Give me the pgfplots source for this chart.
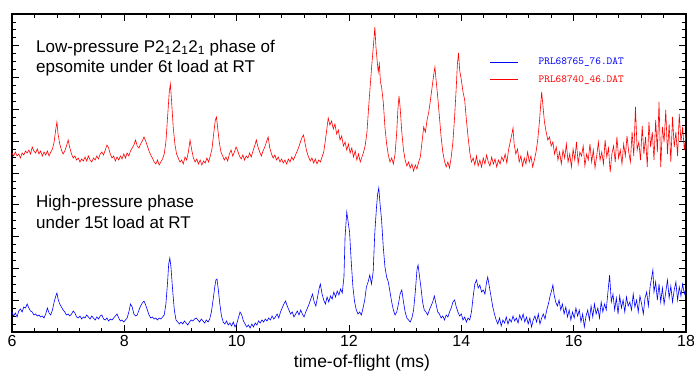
\documentclass[border=0pt]{standalone}
\usepackage{fontspec}
\setmainfont{Liberation Sans}
\usepackage{pgfplots}
\pgfplotsset{compat=1.18}
\begin{document}
\begin{tikzpicture}
\begin{axis}[
  scale only axis,
  width=674pt, height=318pt,
  xmin=6, xmax=18, ymin=0, ymax=318,
  xtick distance=2, minor x tick num=4,
  ytick distance=31.8, minor y tick num=3,
  yticklabels={},
  tick align=inside,
  major tick length=7pt, minor tick length=4pt,
  every tick/.style={black, line width=0.8pt},
  axis line style={black, line width=1.2pt},
  /pgf/number format/assume math mode=true,
  ticklabel style={font=\fontsize{16}{19}\selectfont},
  xlabel={time-of-flight (ms)},
  xlabel style={font=\fontsize{17.5}{20}\selectfont, xshift=13pt, yshift=-1pt},
  legend cell align=left,
  legend style={draw=none, fill=none, inner sep=0pt, at={(0.709,0.868)}, anchor=north west,
    font=\ttfamily\fontsize{10.8}{12}\selectfont, column sep=18pt, row sep=5pt},
  legend image code/.code={\draw[#1] (0pt,0pt) -- (28pt,0pt);},
]
\addplot[blue, line width=0.6pt] coordinates {
(6.00,20)(6.03,16)(6.06,19)(6.09,15)(6.12,21)(6.15,23)(6.18,20)(6.21,25)(6.24,24)(6.27,28)
(6.30,24)(6.33,21)(6.36,20)(6.39,17)(6.42,18)(6.45,16)(6.48,17)(6.51,15)(6.54,16)(6.57,14)
(6.60,18)(6.63,24)(6.66,19)(6.69,17)(6.72,22)(6.75,30)(6.78,36)(6.80,39)(6.82,33)(6.85,28)
(6.88,25)(6.91,22)(6.94,20)(6.97,17)(7.00,18)(7.03,16)(7.06,18)(7.09,21)(7.12,19)(7.15,15)
(7.18,14)(7.21,16)(7.24,13)(7.27,15)(7.30,14)(7.33,17)(7.36,15)(7.39,13)(7.42,16)(7.45,14)
(7.48,12)(7.51,15)(7.54,13)(7.57,16)(7.60,17)(7.63,13)(7.66,12)(7.69,14)(7.72,11)(7.75,13)
(7.78,12)(7.81,14)(7.84,16)(7.87,18)(7.90,14)(7.93,11)(7.96,12)(7.99,10)(8.02,12)(8.05,14)
(8.08,20)(8.11,28)(8.14,25)(8.17,18)(8.20,16)(8.23,17)(8.26,22)(8.29,26)(8.32,29)(8.35,31)
(8.38,27)(8.41,22)(8.44,17)(8.47,14)(8.50,15)(8.53,13)(8.56,14)(8.59,12)(8.62,14)(8.65,13)
(8.68,15)(8.71,17)(8.74,28)(8.77,50)(8.79,68)(8.81,74)(8.83,65)(8.86,42)(8.89,22)(8.92,12)
(8.95,10)(8.98,8)(9.01,10)(9.04,8)(9.07,11)(9.10,9)(9.13,7)(9.16,10)(9.19,12)(9.22,11)
(9.25,13)(9.28,14)(9.31,12)(9.34,10)(9.37,13)(9.40,11)(9.43,9)(9.46,12)(9.49,10)(9.52,13)
(9.55,20)(9.58,32)(9.61,45)(9.63,52)(9.65,53)(9.67,44)(9.70,28)(9.73,16)(9.76,10)(9.79,8)
(9.82,11)(9.85,7)(9.88,9)(9.91,6)(9.94,10)(9.97,5)(10.00,8)(10.03,14)(10.06,20)(10.09,17)
(10.12,11)(10.15,8)(10.18,5)(10.21,7)(10.24,4)(10.27,8)(10.30,5)(10.33,9)(10.36,7)(10.39,11)
(10.42,9)(10.45,12)(10.48,10)(10.51,13)(10.54,11)(10.57,14)(10.60,12)(10.63,16)(10.66,13)(10.69,15)
(10.72,18)(10.75,14)(10.78,20)(10.81,24)(10.84,28)(10.87,31)(10.90,26)(10.93,22)(10.96,18)(10.99,20)
(11.02,15)(11.05,18)(11.08,21)(11.11,17)(11.14,22)(11.17,18)(11.20,15)(11.23,20)(11.26,24)(11.29,28)
(11.32,33)(11.35,38)(11.38,30)(11.41,26)(11.44,35)(11.47,44)(11.49,48)(11.52,38)(11.55,32)(11.58,28)
(11.61,35)(11.64,30)(11.67,36)(11.70,33)(11.73,40)(11.76,35)(11.79,41)(11.82,37)(11.85,43)(11.88,39)
(11.91,55)(11.93,95)(11.96,120)(11.98,112)(12.01,100)(12.04,70)(12.07,45)(12.10,30)(12.13,22)(12.16,18)
(12.19,20)(12.22,17)(12.25,24)(12.28,32)(12.31,45)(12.34,50)(12.37,57)(12.40,48)(12.43,60)(12.46,100)
(12.49,125)(12.51,138)(12.53,144)(12.55,130)(12.58,112)(12.61,85)(12.64,65)(12.67,55)(12.70,50)(12.73,40)
(12.76,30)(12.79,22)(12.82,17)(12.85,20)(12.88,28)(12.91,38)(12.94,42)(12.97,30)(13.00,20)(13.03,14)
(13.06,12)(13.09,10)(13.12,14)(13.15,22)(13.18,40)(13.21,62)(13.23,67)(13.25,58)(13.28,45)(13.31,30)
(13.34,22)(13.37,20)(13.40,17)(13.43,22)(13.46,26)(13.49,30)(13.52,36)(13.55,28)(13.58,20)(13.61,18)
(13.64,14)(13.67,16)(13.70,12)(13.73,17)(13.76,15)(13.79,20)(13.82,24)(13.85,30)(13.88,32)(13.91,25)
(13.94,20)(13.97,16)(14.00,18)(14.03,12)(14.06,15)(14.09,10)(14.12,14)(14.15,12)(14.18,20)(14.21,35)
(14.24,48)(14.27,52)(14.30,44)(14.33,47)(14.36,40)(14.39,42)(14.42,38)(14.45,50)(14.47,55)(14.50,45)
(14.53,35)(14.56,25)(14.59,18)(14.62,12)(14.65,8)(14.68,14)(14.71,6)(14.74,12)(14.77,9)(14.80,15)
(14.83,8)(14.86,13)(14.89,10)(14.92,16)(14.95,11)(14.98,14)(15.01,9)(15.04,17)(15.07,12)(15.10,18)
(15.13,10)(15.16,15)(15.19,8)(15.22,14)(15.25,5)(15.28,12)(15.31,16)(15.34,10)(15.37,18)(15.40,8)
(15.43,14)(15.46,18)(15.49,13)(15.52,22)(15.55,28)(15.58,36)(15.61,42)(15.63,47)(15.65,38)(15.68,30)
(15.71,26)(15.74,32)(15.77,22)(15.80,28)(15.83,18)(15.86,25)(15.89,15)(15.92,22)(15.95,12)(15.98,20)
(16.01,14)(16.04,24)(16.07,16)(16.10,22)(16.13,10)(16.16,18)(16.19,5)(16.22,16)(16.25,22)(16.28,12)
(16.31,26)(16.34,15)(16.37,28)(16.40,18)(16.43,24)(16.46,14)(16.49,30)(16.52,20)(16.55,28)(16.58,22)
(16.61,40)(16.64,57)(16.67,30)(16.70,38)(16.73,22)(16.76,34)(16.79,18)(16.82,36)(16.85,24)(16.88,32)
(16.91,20)(16.94,35)(16.97,26)(17.00,30)(17.03,22)(17.06,38)(17.09,25)(17.12,32)(17.15,20)(17.18,36)
(17.21,28)(17.24,18)(17.27,34)(17.30,40)(17.33,26)(17.36,45)(17.39,55)(17.41,62)(17.43,40)(17.46,50)
(17.49,32)(17.52,48)(17.55,30)(17.58,44)(17.61,28)(17.64,40)(17.67,52)(17.70,34)(17.73,46)(17.76,30)
(17.79,42)(17.82,50)(17.85,32)(17.88,45)(17.91,36)(17.94,48)(17.97,38)(18.00,44)
};
\addlegendentry{\textcolor{blue}{PRL68765\_76.DAT}}
\addplot[red, line width=0.6pt] coordinates {
(6.00,179)(6.03,176)(6.06,180)(6.09,176)(6.12,178)(6.15,174)(6.18,179)(6.21,177)(6.24,181)(6.27,179)
(6.30,182)(6.33,178)(6.36,185)(6.39,181)(6.42,179)(6.45,183)(6.48,178)(6.51,181)(6.54,176)(6.57,180)
(6.60,177)(6.63,181)(6.66,176)(6.69,180)(6.72,183)(6.75,190)(6.78,203)(6.80,210)(6.82,198)(6.85,188)
(6.88,182)(6.91,178)(6.94,181)(6.97,186)(7.00,192)(7.03,184)(7.06,178)(7.09,174)(7.12,176)(7.15,172)
(7.18,174)(7.21,170)(7.24,173)(7.27,171)(7.30,175)(7.33,171)(7.36,176)(7.39,172)(7.42,170)(7.45,174)
(7.48,172)(7.51,176)(7.54,173)(7.57,178)(7.60,180)(7.63,177)(7.66,182)(7.69,187)(7.72,184)(7.75,178)
(7.78,174)(7.81,176)(7.84,171)(7.87,175)(7.90,172)(7.93,176)(7.96,173)(7.99,178)(8.02,174)(8.05,179)
(8.08,176)(8.11,181)(8.14,184)(8.17,187)(8.20,192)(8.23,186)(8.26,184)(8.29,188)(8.32,191)(8.35,195)
(8.38,191)(8.41,186)(8.44,181)(8.47,177)(8.50,174)(8.53,170)(8.56,168)(8.59,172)(8.62,167)(8.65,170)
(8.68,173)(8.71,178)(8.74,190)(8.77,215)(8.80,240)(8.82,248)(8.84,232)(8.87,205)(8.90,188)(8.93,178)
(8.96,174)(8.99,170)(9.02,172)(9.05,168)(9.08,175)(9.11,172)(9.14,180)(9.17,192)(9.20,182)(9.23,174)
(9.26,170)(9.29,173)(9.32,168)(9.35,172)(9.38,167)(9.41,171)(9.44,169)(9.47,174)(9.50,170)(9.53,176)
(9.56,183)(9.59,198)(9.62,212)(9.64,215)(9.66,205)(9.69,190)(9.72,180)(9.75,176)(9.78,172)(9.81,175)
(9.84,171)(9.87,178)(9.90,182)(9.93,176)(9.96,180)(9.99,185)(10.02,181)(10.05,176)(10.08,173)(10.11,177)
(10.14,172)(10.17,176)(10.20,174)(10.23,179)(10.26,175)(10.29,181)(10.32,186)(10.35,192)(10.38,185)(10.41,180)
(10.44,176)(10.47,181)(10.50,185)(10.53,190)(10.56,195)(10.59,184)(10.62,178)(10.65,174)(10.68,177)(10.71,172)
(10.74,175)(10.77,170)(10.80,173)(10.83,169)(10.86,172)(10.89,168)(10.92,173)(10.95,170)(10.98,175)(11.01,172)
(11.04,176)(11.07,180)(11.10,184)(11.13,189)(11.16,194)(11.19,197)(11.22,188)(11.25,180)(11.28,175)(11.31,171)
(11.34,174)(11.37,169)(11.40,173)(11.43,168)(11.46,172)(11.49,170)(11.52,175)(11.55,180)(11.58,192)(11.61,205)
(11.63,214)(11.66,207)(11.69,211)(11.72,203)(11.75,208)(11.78,198)(11.81,202)(11.84,192)(11.87,196)(11.90,186)
(11.93,190)(11.96,182)(11.99,188)(12.02,179)(12.05,184)(12.08,175)(12.11,181)(12.14,172)(12.17,178)(12.20,170)
(12.23,175)(12.26,180)(12.29,187)(12.32,200)(12.35,225)(12.38,248)(12.41,270)(12.44,290)(12.46,305)(12.48,285)
(12.50,272)(12.52,260)(12.54,268)(12.56,250)(12.58,245)(12.61,230)(12.64,205)(12.67,188)(12.70,177)(12.73,170)
(12.76,174)(12.79,168)(12.82,178)(12.85,200)(12.87,222)(12.89,236)(12.91,225)(12.94,200)(12.97,182)(13.00,172)
(13.03,166)(13.06,170)(13.09,164)(13.12,168)(13.15,161)(13.18,167)(13.21,163)(13.24,170)(13.27,175)(13.30,190)
(13.33,205)(13.36,200)(13.39,212)(13.42,220)(13.45,232)(13.48,245)(13.51,258)(13.53,265)(13.55,252)(13.58,235)
(13.61,215)(13.64,195)(13.67,180)(13.70,171)(13.73,165)(13.76,170)(13.79,164)(13.82,175)(13.85,190)(13.88,215)
(13.91,245)(13.93,268)(13.95,279)(13.97,262)(14.00,252)(14.03,240)(14.06,232)(14.09,212)(14.12,195)(14.15,180)
(14.18,170)(14.21,174)(14.24,167)(14.27,176)(14.30,166)(14.33,172)(14.36,165)(14.39,174)(14.42,168)(14.45,177)
(14.48,170)(14.51,166)(14.54,175)(14.57,168)(14.60,173)(14.63,165)(14.66,172)(14.69,168)(14.72,175)(14.75,171)
(14.78,178)(14.81,169)(14.84,182)(14.87,190)(14.90,198)(14.92,204)(14.94,188)(14.97,178)(15.00,183)(15.03,170)
(15.06,176)(15.09,166)(15.12,174)(15.15,168)(15.18,180)(15.21,170)(15.24,176)(15.27,165)(15.30,172)(15.33,180)
(15.36,192)(15.39,210)(15.41,225)(15.43,240)(15.45,228)(15.48,210)(15.51,200)(15.54,192)(15.57,195)(15.60,186)
(15.63,190)(15.66,178)(15.69,185)(15.72,172)(15.75,180)(15.78,168)(15.81,182)(15.84,174)(15.87,188)(15.90,170)
(15.93,178)(15.96,165)(15.99,183)(16.02,172)(16.05,190)(16.08,168)(16.11,180)(16.14,176)(16.17,186)(16.20,166)
(16.23,178)(16.26,172)(16.29,188)(16.32,170)(16.35,182)(16.38,164)(16.41,176)(16.44,190)(16.47,172)(16.50,180)
(16.53,168)(16.56,192)(16.59,175)(16.62,184)(16.65,160)(16.68,178)(16.71,186)(16.74,170)(16.77,195)(16.80,174)
(16.83,182)(16.86,168)(16.89,188)(16.92,176)(16.95,196)(16.98,180)(17.01,170)(17.04,200)(17.07,176)(17.10,225)
(17.13,182)(17.16,190)(17.19,172)(17.22,206)(17.25,178)(17.28,195)(17.31,165)(17.34,210)(17.37,185)(17.40,200)
(17.43,172)(17.46,212)(17.49,180)(17.52,230)(17.55,165)(17.58,205)(17.61,190)(17.64,222)(17.67,178)(17.70,208)
(17.73,170)(17.76,215)(17.79,185)(17.82,200)(17.85,176)(17.88,218)(17.91,190)(17.94,205)(17.97,182)(18.00,198)
};
\addlegendentry{\textcolor{red}{PRL68740\_46.DAT}}
\node[anchor=base west, inner sep=0pt, font=\fontsize{17}{20}\selectfont] at (rel axis cs:0.0356,0.8805) {Low-pressure P2\textsubscript{1}2\textsubscript{1}2\textsubscript{1} phase of};
\node[anchor=base west, inner sep=0pt, font=\fontsize{17}{20}\selectfont] at (rel axis cs:0.0356,0.8145) {epsomite under 6t load at RT};
\node[anchor=base west, inner sep=0pt, font=\fontsize{17}{20}\selectfont] at (rel axis cs:0.0356,0.390) {High-pressure phase};
\node[anchor=base west, inner sep=0pt, font=\fontsize{17}{20}\selectfont] at (rel axis cs:0.0356,0.324) {under 15t load at RT};
\end{axis}
\pgfresetboundingbox
\path[use as bounding box] ([xshift=-12pt,yshift=-40pt]current axis.south west) rectangle ([xshift=8pt,yshift=14pt]current axis.north east);
\end{tikzpicture}
\end{document}
